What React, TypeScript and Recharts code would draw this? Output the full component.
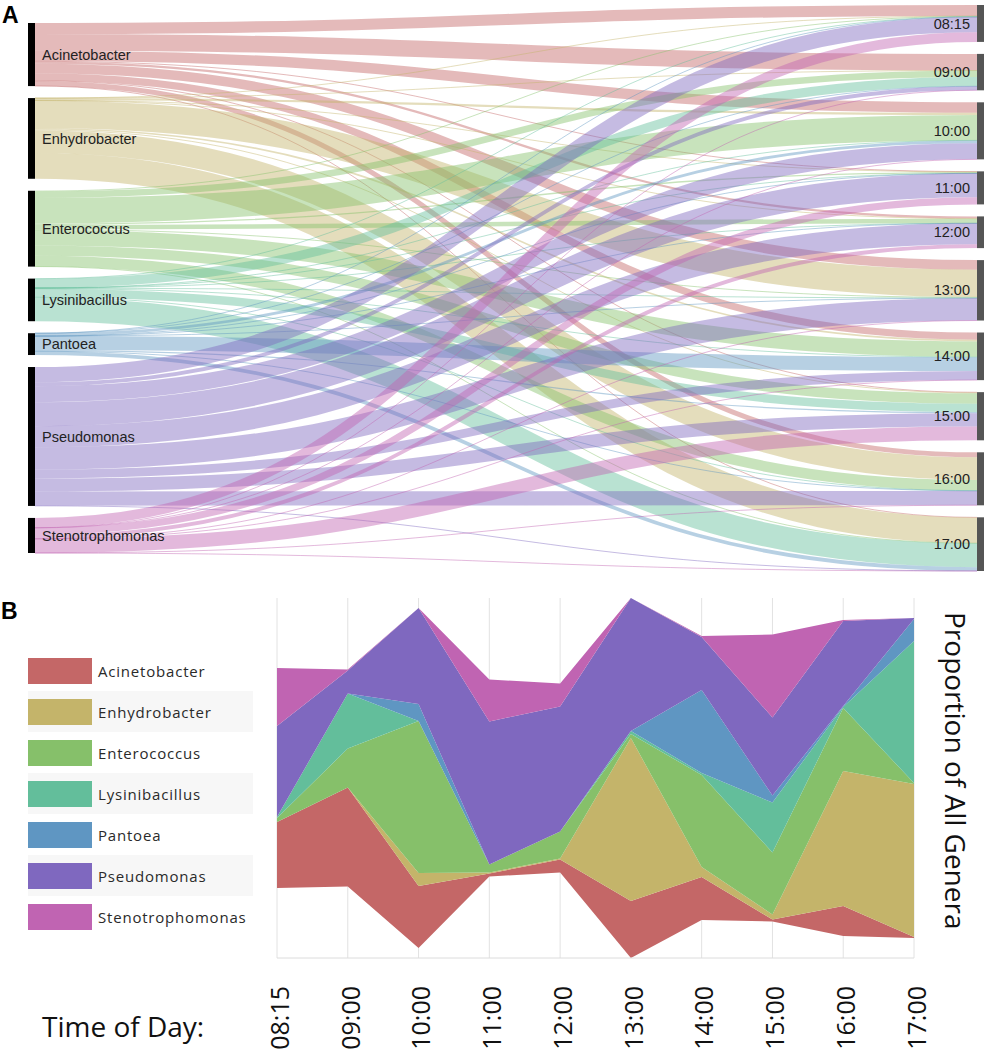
import React from 'react';
import { Sankey, AreaChart, Area, XAxis, YAxis, CartesianGrid } from 'recharts';

// Genus order (bottom → top in the streamgraph, top → bottom in the sankey)
const GENERA = [
  'Acinetobacter',
  'Enhydrobacter',
  'Enterococcus',
  'Lysinibacillus',
  'Pantoea',
  'Pseudomonas',
  'Stenotrophomonas',
];

const TIMES = ['08:15', '09:00', '10:00', '11:00', '12:00', '13:00', '14:00', '15:00', '16:00', '17:00'];

// relative abundance per sampling time
const ACINETOBACTER = [66, 99, 62, 3, 13, 57, 43, 2, 30, 1];
const ENHYDROBACTER = [0, 0, 13, 1, 1, 163, 10, 5, 135, 153];
const ENTEROCOCCUS = [4, 39, 152, 8, 27, 4, 92, 62, 63, 1];
const LYSINIBACILLUS = [1, 55, 0, 0, 0, 3, 2, 50, 1, 142];
const PANTOEA = [0, 0, 17, 0, 0, 0, 83, 7, 1, 22];
const PSEUDOMONAS = [91, 23, 96, 143, 125, 133, 53, 78, 85, 1];
const STENOTROPHOMONAS = [58, 1, 0, 42, 23, 0, 1, 83, 1, 0];

const SERIES = [
  ACINETOBACTER,
  ENHYDROBACTER,
  ENTEROCOCCUS,
  LYSINIBACILLUS,
  PANTOEA,
  PSEUDOMONAS,
  STENOTROPHOMONAS,
];

const COLORS = ['#c46767', '#c4b46a', '#86c06a', '#63be9b', '#5f96c2', '#7f68bf', '#c064b2'];

const colorOf = (name: string) => COLORS[GENERA.indexOf(name)];

const SANKEY_H = 580;
const SANKEY_MARGIN = { top: 5, right: 3, bottom: 9, left: 28 };
const NODE_PAD = 12;

// sankey: genus -> time of day
const sankeyData = {
  nodes: [...GENERA.map((name) => ({ name })), ...TIMES.map((name) => ({ name }))],
  links: GENERA.flatMap((g, gi) =>
    SERIES[gi].map((v, ti) => ({ source: gi, target: GENERA.length + ti, value: v }))
  ),
};

// recharts stacks every column from the top; centre the (shorter) genus column like d3-sankey does
const innerH = SANKEY_H - SANKEY_MARGIN.top - SANKEY_MARGIN.bottom;
const total = SERIES.flat().reduce((a, b) => a + b, 0);
const yRatio = Math.min(
  (innerH - (GENERA.length - 1) * NODE_PAD) / total,
  (innerH - (TIMES.length - 1) * NODE_PAD) / total
);
const leftShift = (innerH - (total * yRatio + (GENERA.length - 1) * NODE_PAD)) / 2;

// streamgraph rows
const streamData = TIMES.map((time, i) => {
  const row: any = { time };
  GENERA.forEach((g, gi) => {
    row[g] = SERIES[gi][i];
  });
  return row;
});

const SankeyNode = (props: any) => {
  const { x, y, width, height, payload } = props;
  const isLeft = payload.depth === 0;
  const ny = isLeft ? y + leftShift : y;
  return (
    <g>
      <rect x={x} y={ny} width={width} height={height} fill={isLeft ? '#000' : '#555'} />
      <text
        x={isLeft ? x + width + 7 : x - 7}
        y={ny + height / 2}
        dy="0.35em"
        textAnchor={isLeft ? 'start' : 'end'}
        fontSize={14.5}
        fontFamily="'Liberation Sans', Arial, sans-serif"
        fill="#222"
      >
        {payload.name}
      </text>
    </g>
  );
};

const SankeyLink = (props: any) => {
  const { sourceX, targetX, sourceY, targetY, sourceControlX, targetControlX, linkWidth, payload, index } = props;
  const name = payload?.source?.name;
  const color = name ? colorOf(name) : COLORS[Math.floor(index / TIMES.length)];
  const sy = sourceY + leftShift;
  return (
    <path
      d={`M${sourceX},${sy}C${sourceControlX},${sy} ${targetControlX},${targetY} ${targetX},${targetY}`}
      fill="none"
      stroke={color}
      strokeWidth={Math.max(1, linkWidth)}
      strokeOpacity={0.45}
    />
  );
};

const TimeTick = (props: any) => {
  const { x, y, payload } = props;
  const tx = x + 3;
  const ty = y + 20;
  return (
    <text
      x={tx}
      y={ty}
      dy="0.35em"
      textAnchor="end"
      transform={`rotate(-90, ${tx}, ${ty})`}
      fontSize={25}
      fontFamily="'Open Sans', sans-serif"
      fill="#111"
    >
      {payload.value}
    </text>
  );
};

export default function App() {
  return (
    <div style={{ position: 'absolute', left: 0, top: 0, width: 987, height: 1050, background: '#fff' }}>
      {/* Panel A */}
      <div style={{ position: 'absolute', left: 0, top: 0 }}>
        <Sankey
          width={987}
          height={SANKEY_H}
          data={sankeyData}
          nodeWidth={7}
          nodePadding={NODE_PAD}
          sort={false}
          iterations={0}
          margin={SANKEY_MARGIN}
          node={SankeyNode}
          link={SankeyLink}
        />
      </div>

      {/* Panel B */}
      <div style={{ position: 'absolute', left: 0, top: 580 }}>
        <AreaChart
          width={987}
          height={470}
          data={streamData}
          stackOffset="silhouette"
          margin={{ top: 18, right: 73, bottom: 2, left: 277 }}
        >
          <CartesianGrid vertical horizontal={false} stroke="#e2e2e2" />
          <XAxis
            dataKey="time"
            height={90}
            axisLine={{ stroke: '#dcdcdc' }}
            tickLine={false}
            interval={0}
            tick={(p: any) => <TimeTick {...p} />}
          />
          <YAxis hide type="number" domain={[-180, 180]} allowDataOverflow />
          {GENERA.map((g, gi) => (
            <Area
              key={g}
              type="linear"
              dataKey={g}
              stackId="1"
              stroke="none"
              fill={COLORS[gi]}
              fillOpacity={1}
              dot={false}
              activeDot={false}
              isAnimationActive={false}
            />
          ))}
        </AreaChart>
      </div>

      {/* legend */}
      <div style={{ position: 'absolute', left: 28, top: 650, width: 225 }}>
        {GENERA.map((g, gi) => (
          <div
            key={g}
            style={{
              height: 41,
              display: 'flex',
              alignItems: 'center',
              background: gi % 2 === 1 ? '#f7f7f7' : 'transparent',
            }}
          >
            <div style={{ width: 64, height: 26, background: COLORS[gi] }} />
            <span
              style={{
                marginLeft: 6,
                fontFamily: "'Open Sans', sans-serif",
                fontSize: 15,
                letterSpacing: 0.8,
                color: '#2a2a2a',
              }}
            >
              {g}
            </span>
          </div>
        ))}
      </div>

      {/* titles */}
      <svg
        width={987}
        height={1050}
        style={{ position: 'absolute', left: 0, top: 0, pointerEvents: 'none' }}
      >
        <text x={2} y={23} fontSize={23} fontWeight="bold" fontFamily="'Liberation Sans', Arial, sans-serif" fill="#000">
          A
        </text>
        <text x={1} y={619} fontSize={23} fontWeight="bold" fontFamily="'Liberation Sans', Arial, sans-serif" fill="#000">
          B
        </text>
        <text x={42} y={1037} fontSize={28} fontFamily="'Open Sans', sans-serif" fill="#111">
          Time of Day:
        </text>
        <text
          x={945}
          y={612}
          transform="rotate(90, 945, 612)"
          fontSize={28}
          fontFamily="'Open Sans', sans-serif"
          fill="#111"
        >
          Proportion of All Genera
        </text>
      </svg>
    </div>
  );
}
